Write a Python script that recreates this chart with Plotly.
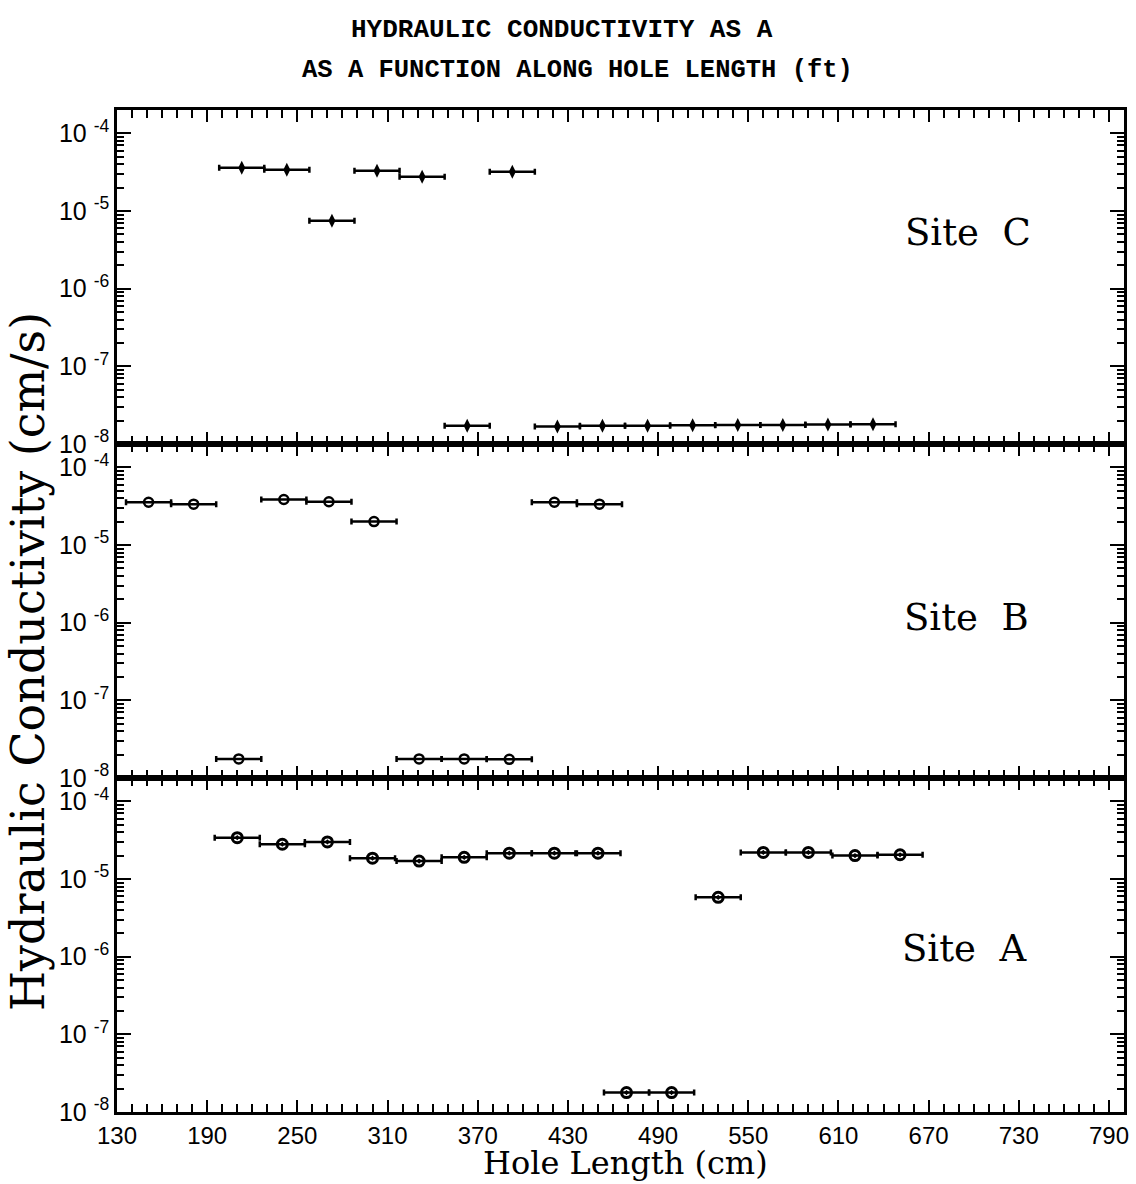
import plotly.graph_objects as go
from plotly.subplots import make_subplots

# ---------------- data ----------------
# Site C (top panel)
c_len = [213, 243, 273, 303, 333, 363, 393, 423, 453, 483, 513, 543, 573, 603, 633]
c_k = [3.6e-5, 3.4e-5, 7.5e-6, 3.3e-5, 2.75e-5, 1.72e-8, 3.2e-5, 1.68e-8, 1.72e-8,
       1.72e-8, 1.74e-8, 1.75e-8, 1.76e-8, 1.78e-8, 1.8e-8]
c_err = [15] * len(c_len)

# Site B (middle panel)
b_len = [151, 181, 211, 241, 271, 301, 331, 361, 391, 421, 451]
b_k = [3.55e-5, 3.35e-5, 1.76e-8, 3.85e-5, 3.6e-5, 2.0e-5, 1.76e-8, 1.76e-8,
       1.74e-8, 3.55e-5, 3.35e-5]
b_err = [15] * len(b_len)

# Site A (bottom panel)
a_len = [210, 240, 270, 300, 331, 361, 391, 421, 450, 469, 499, 530, 560, 590, 621, 651]
a_k = [3.4e-5, 2.8e-5, 3.0e-5, 1.85e-5, 1.7e-5, 1.9e-5, 2.15e-5, 2.15e-5, 2.15e-5,
       1.78e-8, 1.78e-8, 5.8e-6, 2.2e-5, 2.2e-5, 2.0e-5, 2.05e-5]
a_err = [15] * len(a_len)

x_ticks = [130, 190, 250, 310, 370, 430, 490, 550, 610, 670, 730, 790]
y_ticks = [1e-8, 1e-7, 1e-6, 1e-5, 1e-4]
y_ticktext = ["10 <sup>-8</sup>", "10 <sup>-7</sup>", "10 <sup>-6</sup>",
              "10 <sup>-5</sup>", "10 <sup>-4</sup>"]
site_names = ["Site  C", "Site  B", "Site  A"]

title_1 = "HYDRAULIC CONDUCTIVITY AS A"
title_2 = "AS A FUNCTION ALONG HOLE LENGTH (ft)"
x_title = "Hole Length (cm)"
y_title = "Hydraulic Conductivity (cm/s)"

# ---------------- figure ----------------
fig = make_subplots(rows=3, cols=1, shared_xaxes=True, vertical_spacing=0)

panels = [
    (c_len, c_k, c_err, dict(symbol="diamond-tall", size=10, color="black")),
    (b_len, b_k, b_err, dict(symbol="circle-open", size=9, color="black",
                             line=dict(width=2.5, color="black"))),
    (a_len, a_k, a_err, dict(symbol="circle-open-dot", size=10, color="black",
                             line=dict(width=3, color="black"))),
]

for i, (xs, ys, es, mk) in enumerate(panels, start=1):
    fig.add_trace(go.Scatter(
        x=xs, y=ys, mode="markers", marker=mk,
        error_x=dict(type="data", array=es, symmetric=True, color="black",
                     thickness=2.5, width=3),
        showlegend=False, cliponaxis=False,
    ), row=i, col=1)

minor_y = [k * 10.0 ** e for e in range(-8, -3) for k in range(2, 10)]
minor_x = [v for v in range(130, 801, 10)]

for i in range(1, 4):
    fig.update_yaxes(
        type="log", range=[-8, -3.7], automargin=False,
        tickmode="array", tickvals=y_ticks, ticktext=y_ticktext,
        ticks="inside", ticklen=14, tickwidth=2, tickcolor="black",
        minor=dict(tickmode="array", tickvals=minor_y, ticks="inside",
                   ticklen=7, tickwidth=1.5, tickcolor="black", showgrid=False),
        showline=True, linecolor="black", linewidth=2.5, mirror="allticks",
        showgrid=False, zeroline=False,
        tickfont=dict(family="Liberation Sans", size=25, color="black"),
        row=i, col=1)
    fig.update_xaxes(
        range=[130, 800], automargin=False,
        tickmode="array", tickvals=x_ticks,
        ticks="inside", ticklen=12, tickwidth=2, tickcolor="black",
        minor=dict(tickmode="array", tickvals=minor_x, ticks="inside",
                   ticklen=8, tickwidth=1.5, tickcolor="black", showgrid=False),
        showline=True, linecolor="black", linewidth=2.5, mirror="allticks",
        showgrid=False, zeroline=False,
        showticklabels=(i == 3),
        tickfont=dict(family="Liberation Sans", size=24, color="black"),
        row=i, col=1)

fig.update_layout(
    width=1136, height=1184,
    margin=dict(l=117, r=12, t=110, b=72, autoexpand=False),
    paper_bgcolor="white", plot_bgcolor="white",
    showlegend=False,
)

def px_x(px):
    return (px - 117) / 1007.0

def px_y(py):
    return (1112 - py) / 1002.0

anns = []
anns.append(dict(text="<b>" + title_1 + "</b>", x=px_x(562), y=px_y(30),
                 font=dict(family="Liberation Mono", size=26, color="black")))
anns.append(dict(text="<b>" + title_2 + "</b>", x=px_x(577), y=px_y(70),
                 font=dict(family="Liberation Mono", size=25.5, color="black")))
anns.append(dict(text=x_title, x=px_x(625), y=px_y(1163),
                 font=dict(family="DejaVu Serif", size=32, color="black")))
anns.append(dict(text=y_title, x=px_x(28), y=px_y(662), textangle=-90,
                 font=dict(family="DejaVu Serif", size=46, color="black")))
for name, (cx, cy) in zip(site_names, [(968, 232), (966, 617), (964, 948)]):
    anns.append(dict(text=name, x=px_x(cx), y=px_y(cy),
                     font=dict(family="DejaVu Serif", size=37, color="black")))

for a in anns:
    a.update(xref="paper", yref="paper", showarrow=False,
             xanchor="center", yanchor="middle")
fig.update_layout(annotations=anns)

fig.write_html("out.html", config={"displayModeBar": False},
               post_script="document.body.style.margin='0px';")
